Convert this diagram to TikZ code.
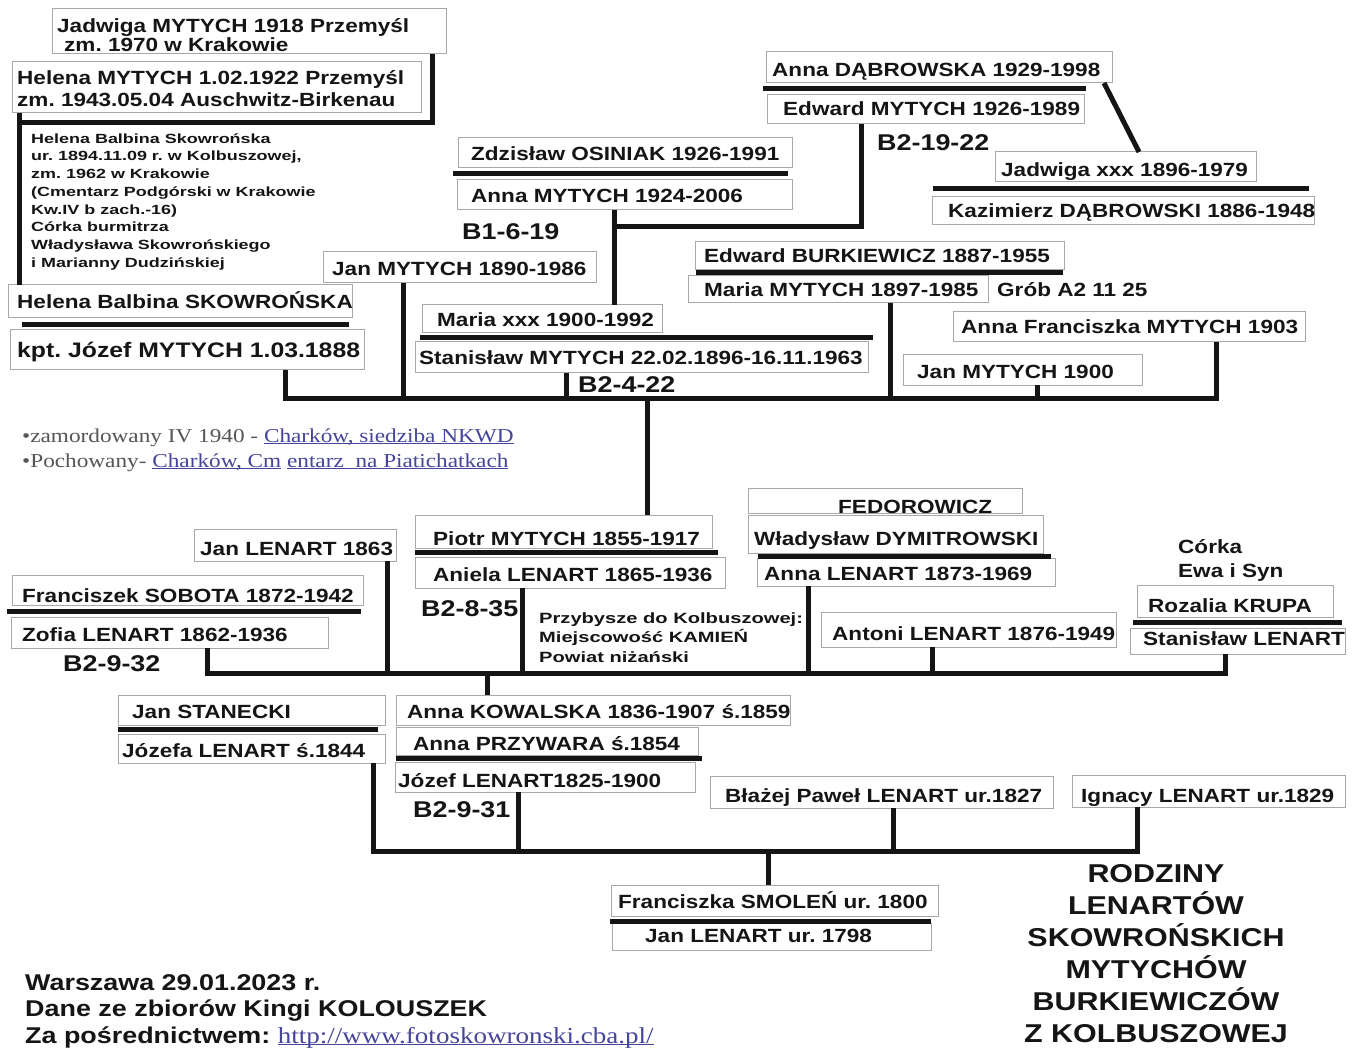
\documentclass[tikz,border=0pt]{standalone}
\usepackage{fontspec}
\newfontfamily\sansS{Liberation Sans}[FakeStretch=1.18]
\newfontfamily\sansW{Liberation Sans}[FakeStretch=1.35]
\newfontfamily\serifS{Liberation Serif}[FakeStretch=1.18]
\definecolor{boxgray}{HTML}{A8A8A8}
\definecolor{ink}{HTML}{151515}
\definecolor{linkc}{HTML}{45459A}
\definecolor{greytxt}{HTML}{555555}
\newcommand\ftMain{\sansS\bfseries\fontsize{19.1}{23}\selectfont}
\newcommand\ftKpt{\sansS\bfseries\fontsize{21}{25}\selectfont}
\newcommand\ftCode{\sansS\bfseries\fontsize{22.8}{27}\selectfont}
\newcommand\ftSmall{\sansW\bfseries\fontsize{13.3}{17.7}\selectfont}
\newcommand\ftPrz{\sansW\bfseries\fontsize{14.9}{19.5}\selectfont}
\newcommand\ftTitle{\sansS\bfseries\fontsize{25.8}{32}\selectfont}
\newcommand\ftFoot{\sansS\bfseries\fontsize{22.8}{26.5}\selectfont}
\newcommand\ftSer{\serifS\mdseries\fontsize{19.7}{25}\selectfont}
\newcommand\ftLink{\serifS\mdseries\fontsize{22.9}{27}\selectfont}
\newcommand\lnkU[1]{\leavevmode\setbox0\hbox{#1}\rlap{\rule[-2.2pt]{\wd0}{0.9pt}}\box0}
\tikzset{
  pbox/.style={draw=boxgray, fill=white, line width=1pt, anchor=north west, inner sep=0pt, outer sep=0pt},
  conn/.style={draw=ink, line width=5pt, line join=miter},
  sepline/.style={draw=ink, line width=5pt},
  txt/.style={inner sep=0pt, anchor=base west, font=\ftMain, text=ink},
}
\newcommand\famBox[5]{\node[pbox, minimum width=#4pt, minimum height=#5pt] (#1) at (#2,#3) {};}
\newcommand\famTxt[4][]{\node[txt,#1] (#2) at (#3) {#4};}
\begin{document}
\frenchspacing
\begin{tikzpicture}[x=1pt,y=-1pt]
\useasboundingbox (0,0) rectangle (1357,1048);
\fill[white] (0,0) rectangle (1357,1048);

% ---------- boxes ----------
\famBox{jad}{52}{9}{394}{45}
\famBox{hel}{12}{62}{409}{51}
\famBox{hbs}{8}{285}{344}{33}
\famBox{kpt}{10}{330}{354}{40}
\famBox{janA}{323}{252}{273}{31}
\famBox{zdz}{458}{138}{334}{30}
\famBox{annM}{457}{180}{335}{30}
\famBox{annD}{766}{52}{346}{31}
\famBox{edwM}{767}{95}{317}{29}
\famBox{jadX}{995}{152}{261}{30}
\famBox{kaz}{932}{197}{382}{28}
\famBox{edwB}{695}{242}{369}{28}
\famBox{marM}{688}{276}{300}{27}
\famBox{annF}{953}{312}{352}{30}
\famBox{janB}{903}{355}{239}{30}
\famBox{marX}{422}{305}{240}{28}
\famBox{stS}{415}{342}{453}{31}
\famBox{pio}{415}{515}{297}{33}
\famBox{ani}{415}{557}{310}{31}
\famBox{fed}{748}{488}{274}{25}
\famBox{wla}{748}{515}{295}{38}
\famBox{annL}{757}{558}{298}{28}
\famBox{ant}{821}{612}{295}{35}
\famBox{roz}{1137}{585}{196}{32}
\famBox{stL}{1130}{628}{215}{26}
\famBox{janC}{194}{529}{202}{32}
\famBox{sob}{12}{575}{351}{30}
\famBox{zof}{11}{617}{317}{31}
\famBox{sta}{118}{695}{267}{30}
\famBox{joa}{118}{734}{267}{29}
\famBox{kow}{396}{695}{394}{30}
\famBox{prz}{396}{727}{302}{28}
\famBox{joz}{395}{762}{300}{30}
\famBox{bla}{710}{776}{343}{32}
\famBox{ign}{1072}{775}{273}{32}
\famBox{fra}{611}{885}{327}{31}
\famBox{janD}{612}{923}{319}{27}

% ---------- couple separator lines ----------
\draw[sepline] (22,325) -- (349,325);
\draw[sepline] (453,174) -- (788,174);
\draw[sepline] (763,89) -- (1086,89);
\draw[sepline] (933,189) -- (1309,189);
\draw[sepline] (696,273) -- (1063,273);
\draw[sepline] (420,338) -- (873,338);
\draw[sepline] (415,552) -- (718,552);
\draw[sepline] (758,556) -- (1051,556);
\draw[sepline] (1133,622) -- (1342,622);
\draw[sepline] (7,611) -- (361,611);
\draw[sepline] (118,729) -- (378,729);
\draw[sepline] (396,758) -- (702,758);
\draw[sepline] (610,921) -- (931,921);

% ---------- connectors ----------
\coordinate (jadK) at (432,123);
\coordinate (helK) at (19,123);
\draw[conn] (jad.south -| jadK) -- (jadK) -- (helK);
\draw[conn] (hel.south -| helK) -- (hbs.north -| helK);

\coordinate (amx) at (614,227);
\coordinate (edK) at (861,227);
\draw[conn] (annM.south -| amx) -- (marX.north -| amx);
\draw[conn] (amx) -- (edK) -- (edwM.south -| edK);
\draw[conn] ([xshift=-8pt]annD.south east) -- ([xshift=13.5pt]jadX.north);

\coordinate (b1L) at (285,398);
\coordinate (b1R) at (1216,398);
\coordinate (b1a) at (403,398);
\coordinate (b1b) at (566,398);
\coordinate (b1c) at (890,398);
\coordinate (b1d) at (1037,398);
\coordinate (b1p) at (647,398);
\draw[conn] (kpt.south -| b1L) -- (b1L) -- (b1R) -- (annF.south -| b1R);
\draw[conn] (janA.south -| b1a) -- (b1a);
\draw[conn] (stS.south -| b1b) -- (b1b);
\draw[conn] (marM.south -| b1c) -- (b1c);
\draw[conn] (janB.south -| b1d) -- (b1d);
\draw[conn] (b1p) -- (pio.north -| b1p);

\coordinate (b2L) at (207,673);
\coordinate (b2R) at (1225,673);
\coordinate (b2a) at (387,673);
\coordinate (b2b) at (522,673);
\coordinate (b2c) at (808,673);
\coordinate (b2d) at (932,673);
\coordinate (b2k) at (487,673);
\draw[conn] (zof.south -| b2L) -- (b2L) -- (b2R) -- (stL.south -| b2R);
\draw[conn] (janC.south -| b2a) -- (b2a);
\draw[conn] (ani.south -| b2b) -- (b2b);
\draw[conn] (annL.south -| b2c) -- (b2c);
\draw[conn] (ant.south -| b2d) -- (b2d);
\draw[conn] (b2k) -- (kow.north -| b2k);

\coordinate (b3L) at (373,851);
\coordinate (b3R) at (1137,851);
\coordinate (b3a) at (518,851);
\coordinate (b3b) at (893,851);
\coordinate (b3f) at (768,851);
\draw[conn] (joa.south -| b3L) -- (b3L) -- (b3R) -- (ign.south -| b3R);
\draw[conn] (joz.south -| b3a) -- (b3a);
\draw[conn] (bla.south -| b3b) -- (b3b);
\draw[conn] (b3f) -- (fra.north -| b3f);

% ---------- texts ----------
\famTxt{t-jad1}{57,32.5}{Jadwiga MYTYCH 1918 Przemyśl}
\famTxt{t-jad2}{64,52}{zm. 1970 w Krakowie}
\famTxt{t-hel1}{17,85}{Helena MYTYCH 1.02.1922 Przemyśl}
\famTxt{t-hel2}{17,107}{zm. 1943.05.04 Auschwitz-Birkenau}
\node[inner sep=0pt, anchor=north west, align=left, font=\ftSmall, text=ink] (t-para) at (31,133.3)
 {Helena Balbina Skowrońska\\ur. 1894.11.09 r. w Kolbuszowej,\\zm. 1962 w Krakowie\\(Cmentarz Podgórski w Krakowie\\Kw.IV b zach.-16)\\Córka burmitrza\\Władysława Skowrońskiego\\i Marianny Dudzińskiej};
\famTxt{t-hbs}{17,309}{Helena Balbina SKOWROŃSKA}
\famTxt[font=\ftKpt]{t-kpt}{17,358}{kpt. Józef MYTYCH 1.03.1888}
\famTxt{t-janA}{332,276}{Jan MYTYCH 1890-1986}
\famTxt{t-zdz}{471,161}{Zdzisław OSINIAK 1926-1991}
\famTxt{t-annM}{471,203}{Anna MYTYCH 1924-2006}
\famTxt[font=\ftCode]{t-c1}{462,240}{B1-6-19}
\famTxt{t-annD}{772,77}{Anna DĄBROWSKA 1929-1998}
\famTxt{t-edwM}{783,116}{Edward MYTYCH 1926-1989}
\famTxt[font=\ftCode]{t-c2}{877,151}{B2-19-22}
\famTxt{t-jadX}{1001,177}{Jadwiga xxx 1896-1979}
\famTxt{t-kaz}{948,218}{Kazimierz DĄBROWSKI 1886-1948}
\famTxt{t-edwB}{704,263}{Edward BURKIEWICZ 1887-1955}
\famTxt{t-marM}{704,297}{Maria MYTYCH 1897-1985}
\famTxt{t-grob}{997,297}{Grób A2 11 25}
\famTxt{t-annF}{961,334}{Anna Franciszka MYTYCH 1903}
\famTxt{t-janB}{917,378}{Jan MYTYCH 1900}
\famTxt{t-marX}{437,327}{Maria xxx 1900-1992}
\famTxt{t-stS}{419,365}{Stanisław MYTYCH 22.02.1896-16.11.1963}
\famTxt[font=\ftCode]{t-c3}{578,392}{B2-4-22}

\famTxt[font=\ftSer, text=greytxt]{t-note1}{22,442}{•zamordowany IV 1940 - \textcolor{linkc}{\lnkU{Charków, siedziba NKWD}}}
\famTxt[font=\ftSer, text=greytxt]{t-note2}{22,467}{•Pochowany- \textcolor{linkc}{\lnkU{Charków, Cm}\ \lnkU{entarz\ \ na Piatichatkach}}}

\famTxt{t-pio}{433,545}{Piotr MYTYCH 1855-1917}
\famTxt{t-ani}{433,581}{Aniela LENART 1865-1936}
\famTxt[font=\ftCode]{t-c4}{421,616}{B2-8-35}
\node[inner sep=0pt, anchor=north west, align=left, font=\ftPrz, text=ink] (t-prz) at (539,612.1)
 {Przybysze do Kolbuszowej:\\Miejscowość KAMIEŃ\\Powiat niżański};
\famTxt{t-fed}{838,513}{FEDOROWICZ}
\famTxt{t-wla}{754,545}{Władysław DYMITROWSKI}
\famTxt{t-annL}{764,580}{Anna LENART 1873-1969}
\famTxt{t-ant}{832,640}{Antoni LENART 1876-1949}
\famTxt{t-cor1}{1178,553}{Córka}
\famTxt{t-cor2}{1178,577}{Ewa i Syn}
\famTxt{t-roz}{1148,612}{Rozalia KRUPA}
\famTxt{t-stL}{1143,645}{Stanisław LENART}
\famTxt{t-janC}{200,555}{Jan LENART 1863}
\famTxt{t-sob}{22,602}{Franciszek SOBOTA 1872-1942}
\famTxt{t-zof}{22,641}{Zofia LENART 1862-1936}
\famTxt[font=\ftCode]{t-c5}{63,671}{B2-9-32}

\famTxt{t-sta}{132,718}{Jan STANECKI}
\famTxt{t-joa}{122,757}{Józefa LENART ś.1844}
\famTxt{t-kow}{407,718}{Anna KOWALSKA 1836-1907 ś.1859}
\famTxt{t-prw}{413,750}{Anna PRZYWARA ś.1854}
\famTxt{t-joz}{398,787}{Józef LENART1825-1900}
\famTxt[font=\ftCode]{t-c6}{413,817}{B2-9-31}
\famTxt{t-bla}{725,802}{Błażej Paweł LENART ur.1827}
\famTxt{t-ign}{1081,802}{Ignacy LENART ur.1829}
\famTxt{t-fra}{618,908}{Franciszka SMOLEŃ ur. 1800}
\famTxt{t-janD}{645,942}{Jan LENART ur. 1798}

\node[inner sep=0pt, anchor=north, align=center, font=\ftTitle, text=ink] (title) at (1156,864.5)
 {RODZINY\\LENARTÓW\\SKOWROŃSKICH\\MYTYCHÓW\\BURKIEWICZÓW\\Z KOLBUSZOWEJ};

\famTxt[font=\ftFoot]{t-f1}{25,990}{Warszawa 29.01.2023 r.}
\famTxt[font=\ftFoot]{t-f2}{25,1016.5}{Dane ze zbiorów Kingi KOLOUSZEK}
\famTxt[font=\ftFoot]{t-f3}{25,1043}{Za pośrednictwem: {\ftLink\textcolor{linkc}{\lnkU{http://www.fotoskowronski.cba.pl/}}}}
\end{tikzpicture}
\end{document}
